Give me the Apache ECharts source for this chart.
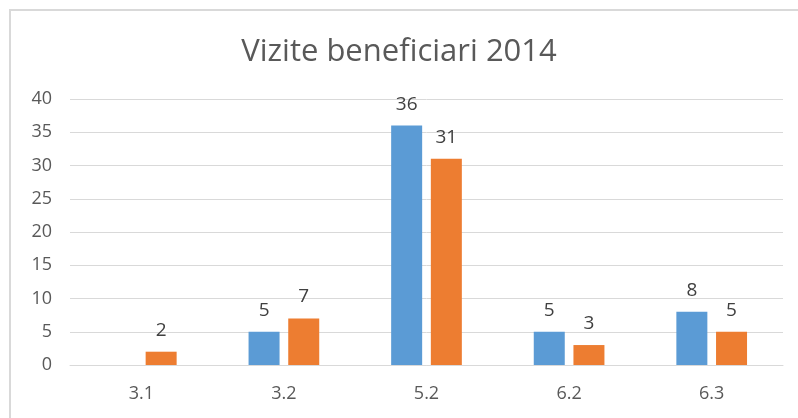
<!DOCTYPE html>
<html>
<head>
<meta charset="utf-8">
<script src="https://cdn.jsdelivr.net/npm/echarts@6/dist/echarts.min.js"></script>
<style>
html,body{margin:0;padding:0;background:#fff;}
#frame{position:absolute;left:9px;top:9px;width:800px;height:420px;border-top:2px solid #d9d9d9;border-left:2px solid #d9d9d9;}
#graph1{position:absolute;left:0;top:0;width:798px;height:418px;}
</style>
</head>
<body>
<div id="frame"></div>
<div id="graph1"></div>
<script>
var categories=['3.1','3.2','5.2','6.2','6.3'];
var seriesA=[null,5,36,5,8];      // albastru
var seriesB=[2,7,31,3,5];         // portocaliu
var yTicks=[0,5,10,15,20,25,30,35,40];

var main=document.getElementById("graph1");
var myChart=echarts.init(main);

var labelStyle={
  show:true,
  position:'top',
  distance:12,
  color:'#404040',
  fontFamily:'Open Sans',
  fontSize:19
};

var option={
  animation:false,
  title:{
    text:'Vizite beneficiari 2014',
    left:'center',
    top:32,
    textStyle:{
      color:'#595959',
      fontFamily:'Open Sans',
      fontWeight:'normal',
      fontSize:31
    }
  },
  grid:{
    left:70,
    right:15,
    top:99,
    bottom:53
  },
  xAxis:{
    type:'category',
    data:categories,
    axisTick:{show:false},
    axisLine:{lineStyle:{color:'#d9d9d9',width:1}},
    axisLabel:{
      color:'#595959',
      fontFamily:'Open Sans',
      fontSize:18,
      margin:20
    }
  },
  yAxis:{
    type:'value',
    min:yTicks[0],
    max:yTicks[yTicks.length-1],
    interval:5,
    axisLine:{show:false},
    axisTick:{show:false},
    splitLine:{lineStyle:{color:'#d9d9d9',width:1}},
    axisLabel:{
      color:'#595959',
      fontFamily:'Open Sans',
      fontSize:18,
      margin:18
    }
  },
  series:[
    {
      type:'bar',
      data:seriesA,
      barWidth:31,
      barGap:'28%',
      itemStyle:{color:'#5B9BD5'},
      label:labelStyle
    },
    {
      type:'bar',
      data:seriesB,
      barWidth:31,
      barGap:'28%',
      itemStyle:{color:'#ED7D31'},
      label:labelStyle
    }
  ]
};

myChart.setOption(option);
</script>
</body>
</html>
